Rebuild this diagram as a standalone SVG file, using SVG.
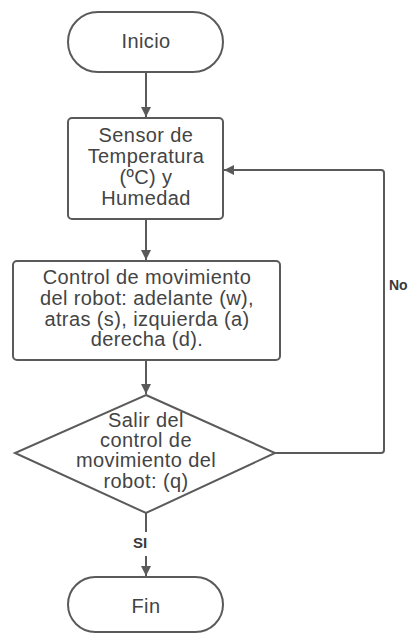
<svg xmlns="http://www.w3.org/2000/svg" width="411" height="635" viewBox="0 0 411 635">
  <style>
    .shape { fill: #ffffff; stroke: #5a5a5a; stroke-width: 2; }
    .txt { font-family: "Liberation Sans", Arial, sans-serif; font-size: 20px; letter-spacing: 0.4px; fill: #444444; text-anchor: middle; }
    .lbl { font-family: "Liberation Sans", Arial, sans-serif; font-size: 15px; font-weight: bold; fill: #3a3a3a; }
    .edge { fill: none; stroke: #5a5a5a; stroke-width: 2; }
  </style>
  <defs>
    <marker id="arrow" viewBox="0 0 10 10" refX="10" refY="5" markerWidth="5" markerHeight="5" orient="auto" markerUnits="strokeWidth">
      <path d="M0,0 L10,5 L0,10 Z" fill="#5a5a5a"/>
    </marker>
  </defs>
  <rect width="411" height="635" fill="#ffffff"/>

  <g id="connectors">
    <line class="edge" x1="146" y1="72" x2="146" y2="117" marker-end="url(#arrow)"/>
    <line class="edge" x1="146" y1="219" x2="146" y2="260" marker-end="url(#arrow)"/>
    <line class="edge" x1="146" y1="360" x2="146" y2="394" marker-end="url(#arrow)"/>
    <path class="edge" d="M275,453 H381 Q384,453 384,450 V173 Q384,170 381,170 H224" marker-end="url(#arrow)"/>
    <line class="edge" x1="146" y1="513" x2="146" y2="532"/>
    <line class="edge" x1="146" y1="556" x2="146" y2="576" marker-end="url(#arrow)"/>
    <text class="lbl" x="140" y="548" text-anchor="middle">SI</text>
    <text class="lbl" x="389" y="290" style="font-size:14px">No</text>
  </g>

  <g id="inicio">
    <rect class="shape" x="68" y="12" width="155" height="60" rx="30" ry="30"/>
    <text class="txt" x="146" y="48">Inicio</text>
  </g>

  <g id="sensor">
    <rect class="shape" x="68" y="118" width="155" height="101" rx="4" ry="4"/>
    <text class="txt" x="146" y="142">Sensor de</text>
    <text class="txt" x="146" y="163">Temperatura</text>
    <text class="txt" x="146" y="184">(ºC) y</text>
    <text class="txt" x="146" y="205">Humedad</text>
  </g>

  <g id="control">
    <rect class="shape" x="13" y="261" width="267" height="99" rx="4" ry="4"/>
    <text class="txt" x="147" y="284">Control de movimiento</text>
    <text class="txt" x="147" y="305">del robot: adelante (w),</text>
    <text class="txt" x="147" y="326">atras (s), izquierda (a)</text>
    <text class="txt" x="147" y="346">derecha (d).</text>
  </g>

  <g id="salir">
    <polygon class="shape" points="146,395 275,453 146,513 15,453"/>
    <text class="txt" x="146" y="427">Salir del</text>
    <text class="txt" x="146" y="447">control de</text>
    <text class="txt" x="146" y="467">movimiento del</text>
    <text class="txt" x="146" y="488">robot: (q)</text>
  </g>

  <g id="fin">
    <rect class="shape" x="68" y="577" width="155" height="55" rx="27.5" ry="27.5"/>
    <text class="txt" x="146" y="613">Fin</text>
  </g>
</svg>
